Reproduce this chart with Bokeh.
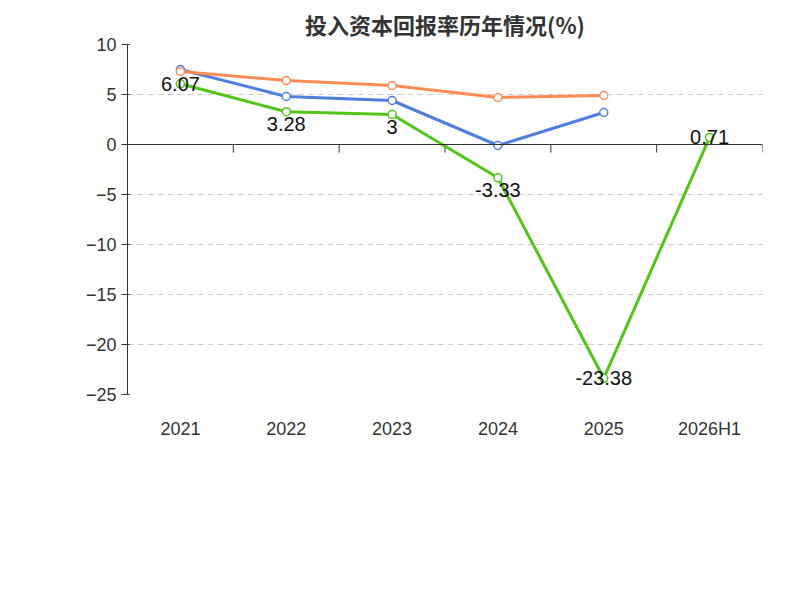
import math
from bokeh.plotting import figure
from bokeh.models import FixedTicker, Legend, LegendItem, Label, Title, Span
from bokeh.embed import file_html
from bokeh.resources import INLINE

years = ["2021", "2022", "2023", "2024", "2025", "2026H1"]
company = [6.07, 3.28, 3.0, -3.33, -23.38, 0.71]
industry_avg = [7.5, 4.8, 4.4, -0.1, 3.2]
industry_med = [7.3, 6.4, 5.9, 4.7, 4.9]

xs = [i + 0.5 for i in range(len(years))]

p = figure(width=784, height=584, output_backend="svg", toolbar_location=None,
           x_range=(0, 6), y_range=(-25, 10), frame_width=635, frame_height=350,
           min_border_left=127, min_border_top=20, min_border_right=10)
p.outline_line_color = None
p.background_fill_color = "white"

t = Title(text="投入资本回报率历年情况(%)", text_font_size="22px", text_font="Noto Sans CJK SC",
          text_font_style="bold", align="center", text_color="#333333")
p.add_layout(t, "above")

p.xaxis.ticker = FixedTicker(ticks=xs)
p.xaxis.major_label_overrides = {x: y for x, y in zip(xs, years)}
p.xaxis.axis_line_color = None
p.xaxis.major_tick_line_color = None
p.xaxis.major_label_text_font_size = "18px"
p.xaxis.major_label_text_color = "#333333"
p.xaxis.major_label_standoff = 18
p.xgrid.visible = False

p.yaxis.ticker = FixedTicker(ticks=[-25, -20, -15, -10, -5, 0, 5, 10])
p.yaxis.major_label_text_font_size = "18px"
p.yaxis.major_label_text_color = "#333333"
p.yaxis.axis_line_color = "#333333"
p.yaxis.major_tick_line_color = "#333333"
p.yaxis.minor_tick_line_color = None
p.ygrid.grid_line_dash = "6 4"
p.ygrid.grid_line_color = "#cccccc"

p.add_layout(Span(location=0, dimension="width", line_color="#333333", line_width=1))
bx = [1, 2, 3, 4, 5, 6]
p.segment(x0=bx, x1=bx, y0=[0]*6, y1=[-0.8]*6, line_color="#333333")

p.add_layout(Label(x=-0.55, y=6.5, text="(%)", angle=math.pi/2, text_color="red",
                   text_font_size="14px", text_align="center"))

r1 = p.line(xs, company, line_color="#52c41a", line_width=3)
p.scatter(xs, company, size=8, fill_color="white", line_color="#52c41a", line_width=1.5)
r2 = p.line(xs[:5], industry_avg, line_color="#4e7fe0", line_width=3)
p.scatter(xs[:5], industry_avg, size=8, fill_color="white", line_color="#4e7fe0", line_width=1.5)
r3 = p.line(xs[:5], industry_med, line_color="#ff8c55", line_width=3)
p.scatter(xs[:5], industry_med, size=8, fill_color="white", line_color="#ff8c55", line_width=1.5)

p.text(x=xs, y=company, text=[f"{v:g}" for v in company], text_align="center",
       text_baseline="middle", y_offset=[0, 12, 12, 12, 0, 0], x_offset=0,
       text_font_size="20px", text_color="#111111")

legend = Legend(items=[LegendItem(label="公司投入资本回报率", renderers=[r1]),
                       LegendItem(label="行业均值", renderers=[r2]),
                       LegendItem(label="行业中位数", renderers=[r3])],
                orientation="horizontal", location="center", border_line_color=None,
                label_text_font_size="20px", label_text_color="#333333",
                glyph_width=50, spacing=20, margin=30)
p.add_layout(legend, "below")

src = Title(text="制图数据来自恒生聚源数据库", text_font_size="15px", text_color="#c8962a",
            text_font_style="normal", align="center")
p.add_layout(src, "below")

open("out.html", "w").write(file_html(p, INLINE))
